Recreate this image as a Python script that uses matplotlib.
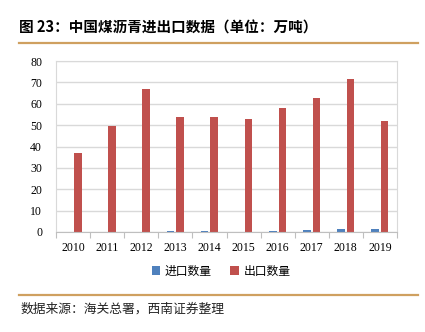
import matplotlib.pyplot as plt
import numpy as np

plt.rcParams['font.family'] = ['Noto Sans CJK SC', 'DejaVu Sans']

years = ['2010', '2011', '2012', '2013', '2014', '2015', '2016', '2017', '2018', '2019']
imports = [0.2, 0.1, 0.05, 0.3, 0.3, 0.2, 0.3, 1.1, 1.5, 1.2]
exports = [37.1, 49.6, 66.8, 53.8, 53.6, 52.9, 57.9, 62.5, 71.4, 51.9]
yticks = [0, 10, 20, 30, 40, 50, 60, 70, 80]

fig = plt.figure(figsize=(4.25, 3.32), dpi=100)
ax = fig.add_axes([56/425, 1-232/332, 341/425, 171/332])

x = np.arange(len(years))
w = 0.22
gap = 0.06
ax.bar(x - (w+gap)/2, imports, width=w, color='#4F81BD', label='进口数量')
ax.bar(x + (w+gap)/2, exports, width=w, color='#C0504D', label='出口数量')

ax.set_xlim(-0.5, len(years)-0.5)
ax.set_ylim(0, 80)
ax.set_yticks(yticks)
ax.set_yticklabels([str(v) for v in yticks], family='Liberation Serif', fontsize=8.5)
ax.set_xticks(x)
ax.set_xticklabels(years, family='Liberation Serif', fontsize=8.5)
ax.tick_params(axis='both', length=0, pad=7)
ax.tick_params(axis='y', pad=10)
ax.set_xticks(np.arange(-0.5, len(years)), minor=True)
ax.tick_params(axis='x', which='minor', length=4, color='#BFBFBF', width=0.8)
ax.yaxis.grid(True, color='#D9D9D9', linewidth=1)
ax.set_axisbelow(True)
for s in ['top', 'right', 'left']:
    ax.spines[s].set_color('#D9D9D9')
ax.spines['bottom'].set_color('#BFBFBF')

ax.legend(loc='center', bbox_to_anchor=(221/425, 1-271/332), bbox_transform=fig.transFigure,
          ncol=2, frameon=False, fontsize=8.5, handlelength=0.7, handleheight=0.7,
          handletextpad=0.4, columnspacing=1.6)

# title and rules
fig.text(19/425, 1-28/332, '图 23：中国煤沥青进出口数据（单位：万吨）', fontsize=10.5,
         fontweight='bold', va='center', ha='left')
gold = '#CFA060'
fig.add_artist(plt.Line2D([19/425, 418/425], [1-43/332, 1-43/332], color=gold, lw=1.6))
fig.add_artist(plt.Line2D([19/425, 418/425], [1-295/332, 1-295/332], color=gold, lw=1.6))
fig.text(21/425, 1-309/332, '数据来源：海关总署，西南证券整理', fontsize=9.2,
         va='center', ha='left', style='italic', color='#222222')

fig.savefig('out.png', dpi=100)
